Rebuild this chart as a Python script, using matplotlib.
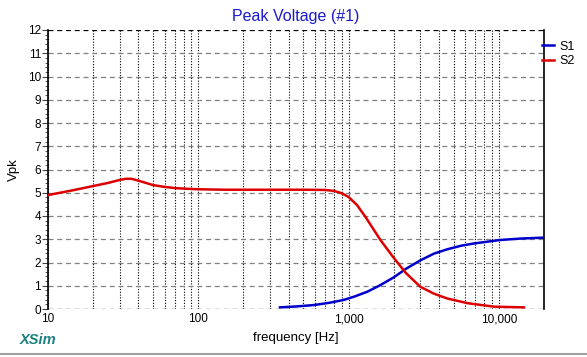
import numpy as np
import matplotlib.pyplot as plt
from matplotlib.ticker import FixedLocator, MultipleLocator, NullFormatter

plt.rcParams['font.family'] = ['Liberation Sans', 'DejaVu Sans']

# S2 (red)
f_s2 = [10, 15, 20, 25, 30, 33, 36, 40, 50, 60, 70, 85, 100, 150, 300, 500, 700,
        800, 900, 1000, 1140, 1300, 1630, 2000, 2400, 3000, 3700, 4550, 6200, 9300, 14700]
v_s2 = [4.9, 5.12, 5.29, 5.42, 5.55, 5.6, 5.6, 5.52, 5.33, 5.25, 5.2, 5.17, 5.15, 5.13, 5.13,
        5.13, 5.12, 5.08, 4.98, 4.82, 4.47, 3.95, 2.97, 2.2, 1.56, 0.96, 0.66, 0.45, 0.25, 0.1, 0.07]

# S1 (blue)
f_s1 = [350, 450, 590, 750, 930, 1100, 1330, 1600, 2000, 2400, 3020, 3700, 4550, 5600,
        6850, 8500, 10300, 14000, 20000]
v_s1 = [0.07, 0.11, 0.17, 0.27, 0.39, 0.54, 0.74, 1.0, 1.36, 1.72, 2.1, 2.38, 2.57, 2.72,
        2.82, 2.9, 2.97, 3.03, 3.07]

x_major = [10, 100, 1000, 10000]
x_labels = ['10', '100', '1,000', '10,000']

fig = plt.figure(figsize=(5.87, 3.57), dpi=100)
ax = fig.add_axes([48/587, (357-309)/357, 496/587, 279/357])

ax.plot(f_s1, v_s1, color='#0000cc', lw=1.8, label='S1', zorder=3)
ax.plot(f_s2, v_s2, color='#dd0000', lw=1.8, label='S2', zorder=3)

ax.set_xscale('log')
ax.set_xlim(10, 20000)
ax.set_ylim(0, 12)

# vertical grid at every 1..9 multiple
grid_x = [m * 10**d for d in range(1, 5) for m in range(1, 10) if m * 10**d <= 20000]
for gx in grid_x:
    ax.axvline(gx, color='black', lw=0.8, ls=(0, (1, 1.5)), zorder=1)
for gy in range(0, 13):
    ax.axhline(gy, color='#808080' if 0 < gy < 12 else 'black', lw=0.9,
               ls=(0, (4, 3)), zorder=1)

ax.xaxis.set_major_locator(FixedLocator(x_major))
ax.set_xticklabels(x_labels)
ax.xaxis.set_minor_locator(FixedLocator(grid_x))
ax.xaxis.set_minor_formatter(NullFormatter())
ax.yaxis.set_major_locator(MultipleLocator(1))
ax.yaxis.set_minor_locator(MultipleLocator(0.2))

ax.tick_params(axis='both', which='major', labelsize=8.5, length=4, color='#444444', pad=1)
ax.tick_params(axis='y', which='minor', length=2, color='#444444')
ax.tick_params(axis='x', which='minor', length=0)
ax.tick_params(axis='x', which='major', length=0, pad=3)

for s in ['top']:
    ax.spines[s].set_visible(False)
ax.spines['bottom'].set_visible(False)
ax.spines['left'].set_linewidth(1.2)
ax.spines['right'].set_linewidth(1.2)

ax.set_ylabel('Vpk', fontsize=9.5, labelpad=6)
ax.set_xlabel('frequency [Hz]', fontsize=9.5, labelpad=5)
fig.text(296/587, 1 - 16/357, 'Peak Voltage (#1)', color='#1a1acc', fontsize=11.5,
         ha='center', va='center')
fig.text(20/587, 1 - 340/357, 'XSim', color='#1a8080', fontsize=10.5, fontweight='bold',
         fontstyle='italic', ha='left', va='center')

leg = ax.legend(loc='upper left', bbox_to_anchor=(0.985, 0.98), frameon=False,
                handlelength=1.0, handletextpad=0.4, fontsize=9, labelspacing=0.2,
                borderaxespad=0)

fig.add_artist(plt.Line2D([0, 1], [1 - 354/357, 1 - 354/357], color='#a0a0a0', lw=1.5))

fig.savefig('out.png', dpi=100)
plt.close()
